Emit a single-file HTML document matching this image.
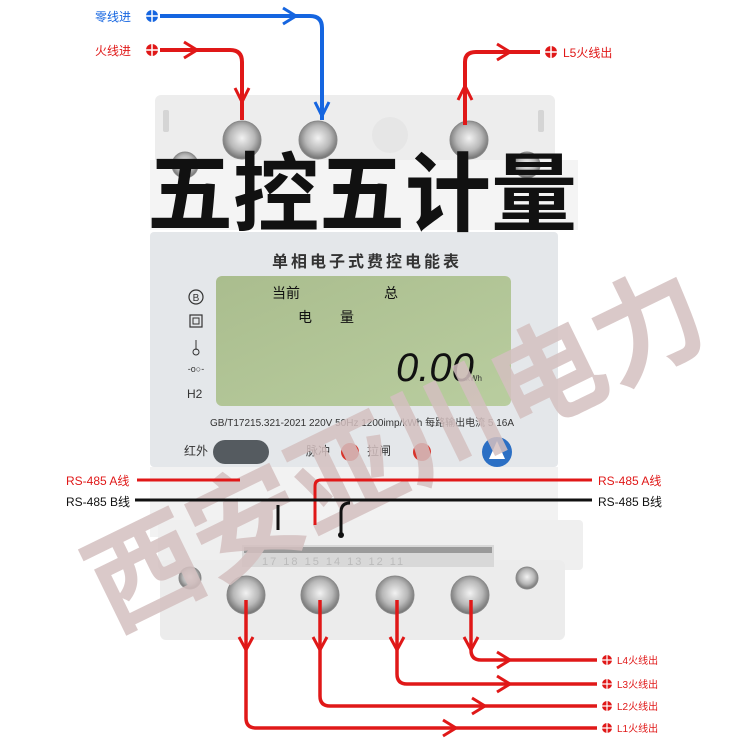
<!DOCTYPE html>
<html><head><meta charset="utf-8"><style>
html,body{margin:0;padding:0;background:#fff;}
svg{display:block;font-family:"Liberation Sans","Noto Sans CJK SC",sans-serif;}
</style></head><body>
<svg width="750" height="750" viewBox="0 0 750 750" xmlns="http://www.w3.org/2000/svg">
<defs>
<radialGradient id="scr" cx="50%" cy="45%" r="55%"><stop offset="0" stop-color="#f2f2f2"/><stop offset="0.6" stop-color="#b8b8b8"/><stop offset="1" stop-color="#707070"/></radialGradient>
<linearGradient id="lcd" x1="0" y1="0" x2="1" y2="1"><stop offset="0" stop-color="#aabd8e"/><stop offset="1" stop-color="#b9cd9f"/></linearGradient>
</defs>
<rect x="155" y="95" width="400" height="135" rx="6" fill="#ededed"/>
<rect x="150" y="160" width="428" height="70" fill="#f4f4f4"/>
<rect x="163" y="110" width="6" height="22" rx="2" fill="#d5d5d5"/>
<rect x="538" y="110" width="6" height="22" rx="2" fill="#d5d5d5"/>
<circle cx="390" cy="135" r="18" fill="#e6e6e6"/>
<g fill="url(#scr)" stroke="#888" stroke-width="1">
<circle cx="242" cy="140" r="19"/><circle cx="318" cy="140" r="19"/><circle cx="469" cy="140" r="19"/>
<circle cx="185" cy="165" r="13"/><circle cx="527" cy="165" r="13"/>
</g>
<rect x="150" y="232" width="408" height="235" rx="4" fill="#e4e7ea"/>
<text x="367" y="267" font-size="16" font-weight="bold" fill="#333" text-anchor="middle" letter-spacing="3">单相电子式费控电能表</text>
<rect x="216" y="276" width="295" height="130" rx="6" fill="url(#lcd)"/>
<text x="272" y="298" font-size="14" fill="#111">当前</text>
<text x="384" y="298" font-size="14" fill="#111">总</text>
<text x="298" y="322" font-size="14" fill="#111">电</text>
<text x="340" y="322" font-size="14" fill="#111">量</text>
<text x="396" y="381" font-size="40" font-style="italic" fill="#111">0.00</text>
<text x="466" y="381" font-size="8" fill="#333">kWh</text>
<circle cx="196" cy="297" r="7" fill="none" stroke="#333" stroke-width="1.2"/><text x="196" y="301" font-size="10" text-anchor="middle" fill="#333">B</text>
<rect x="190" y="315" width="12" height="12" fill="none" stroke="#333" stroke-width="1.2"/><rect x="193" y="318" width="6" height="6" fill="none" stroke="#333"/>
<line x1="196" y1="340" x2="196" y2="350" stroke="#333"/><circle cx="196" cy="352" r="3" fill="none" stroke="#333"/>
<text x="196" y="372" font-size="9" text-anchor="middle" fill="#333">-o○-</text>
<text x="187" y="398" font-size="12" fill="#333">H2</text>
<text x="210" y="426" font-size="10" fill="#333">GB/T17215.321-2021  220V  50Hz  1200imp/kWh  每路输出电流  5 16A</text>
<text x="184" y="455" font-size="12" fill="#333">红外</text>
<rect x="213" y="440" width="56" height="24" rx="12" fill="#555b60"/>
<text x="306" y="455" font-size="12" fill="#333">脉冲</text>
<circle cx="350" cy="452" r="9" fill="#d8332a"/>
<text x="367" y="455" font-size="12" fill="#333">拉闸</text>
<circle cx="422" cy="452" r="9" fill="#d8332a"/>
<circle cx="497" cy="452" r="15" fill="#2b6fc4"/>
<path d="M489 459 L497 441 L505 459 Z" fill="#fff"/>
<rect x="150" y="467" width="408" height="70" fill="#f2f2f2"/>
<rect x="158" y="520" width="425" height="50" rx="4" fill="#efefef"/>
<rect x="160" y="560" width="405" height="80" rx="6" fill="#ececec"/>
<rect x="242" y="545" width="252" height="22" fill="#d8d8d8"/>
<rect x="244" y="547" width="248" height="6" fill="#9a9a9a"/>
<text x="262" y="565" font-size="11" fill="#bbb" letter-spacing="2">17  18  15  14  13  12  11</text>
<g fill="url(#scr)" stroke="#888" stroke-width="1">
<circle cx="246" cy="595" r="19"/><circle cx="320" cy="595" r="19"/><circle cx="395" cy="595" r="19"/><circle cx="470" cy="595" r="19"/>
<circle cx="190" cy="578" r="11"/><circle cx="527" cy="578" r="11"/>
</g>
<text x="362" y="224" font-size="86" font-weight="bold" fill="#111" text-anchor="middle" font-family="'Noto Sans CJK SC',sans-serif">五控五计量</text>
<g transform="translate(112,632) rotate(-26)" fill="#d4c0c0" fill-opacity="0.85" font-size="112" font-weight="bold" font-family="'Noto Sans CJK SC',sans-serif">
<text x="0" y="0">西安亚川电力</text>
</g>
<g fill="none" stroke-width="4">
<path d="M160 16 H310 Q322 16 322 28 V120" stroke="#1565e0"/>
<path d="M160 50 H230 Q242 50 242 62 V120" stroke="#e01818"/>
<path d="M465 125 V62 Q465 52 476 52 H540" stroke="#e01818"/>
</g>
<g fill="none" stroke-width="3">
<path d="M283 8 L296 16 L283 24" stroke="#1565e0"/>
<path d="M315 102 L322 116 L329 102" stroke="#1565e0"/>
<path d="M184 42 L197 50 L184 58" stroke="#e01818"/>
<path d="M235 88 L242 102 L249 88" stroke="#e01818"/>
<path d="M458 100 L465 86 L472 100" stroke="#e01818"/>
<path d="M497 44 L510 52 L497 60" stroke="#e01818"/>
</g>
<text x="95" y="21" font-size="12" fill="#1565e0">零线进</text>
<circle cx="152" cy="16" r="6" fill="#1565e0"/><path d="M146 16H158M152 10V22" stroke="#fff" stroke-width="1.5"/>
<text x="95" y="55" font-size="12" fill="#e01818">火线进</text>
<circle cx="152" cy="50" r="6" fill="#e01818"/><path d="M146 50H158M152 44V56" stroke="#fff" stroke-width="1.5"/>
<circle cx="551" cy="52" r="6" fill="#e01818"/><path d="M545 52H557M551 46V58" stroke="#fff" stroke-width="1.5"/>
<text x="563" y="57" font-size="12" fill="#e01818">L5火线出</text>
<path d="M137 480 H240" stroke="#e01818" stroke-width="3"/>
<path d="M315 525 V486 Q315 480 321 480 H592" stroke="#e01818" stroke-width="3" fill="none"/>
<path d="M135 500 H592" stroke="#111" stroke-width="3"/>
<path d="M341 533 V512 Q341 503 350 503" stroke="#111" stroke-width="3" fill="none"/>
<path d="M278 505 V530" stroke="#111" stroke-width="3"/>
<circle cx="341" cy="535" r="3" fill="#111"/>
<text x="66" y="485" font-size="12" fill="#e01818">RS-485 A线</text>
<text x="66" y="506" font-size="12" fill="#111">RS-485 B线</text>
<text x="598" y="485" font-size="12" fill="#e01818">RS-485 A线</text>
<text x="598" y="506" font-size="12" fill="#111">RS-485 B线</text>
<g fill="none" stroke="#e01818" stroke-width="3.5">
<path d="M246 600 V718 Q246 728 256 728 H597"/>
<path d="M320 600 V696 Q320 706 330 706 H597"/>
<path d="M397 600 V674 Q397 684 407 684 H597"/>
<path d="M471 600 V650 Q471 660 481 660 H597"/>
</g>
<g fill="none" stroke="#e01818" stroke-width="3">
<path d="M239 637 L246 650 L253 637"/><path d="M313 637 L320 650 L327 637"/><path d="M390 637 L397 650 L404 637"/><path d="M464 637 L471 650 L478 637"/>
<path d="M443 720 L456 728 L443 736"/><path d="M472 698 L485 706 L472 714"/><path d="M497 676 L510 684 L497 692"/><path d="M497 652 L510 660 L497 668"/>
</g>
<g font-size="10" fill="#e01818">
<circle cx="607" cy="660" r="5"/><text x="617" y="664">L4火线出</text>
<circle cx="607" cy="684" r="5"/><text x="617" y="688">L3火线出</text>
<circle cx="607" cy="706" r="5"/><text x="617" y="710">L2火线出</text>
<circle cx="607" cy="728" r="5"/><text x="617" y="732">L1火线出</text>
</g>
<g stroke="#fff" stroke-width="1.2">
<path d="M602 660H612M607 655V665M602 684H612M607 679V689M602 706H612M607 701V711M602 728H612M607 723V733"/>
</g>
</svg>
</body></html>
